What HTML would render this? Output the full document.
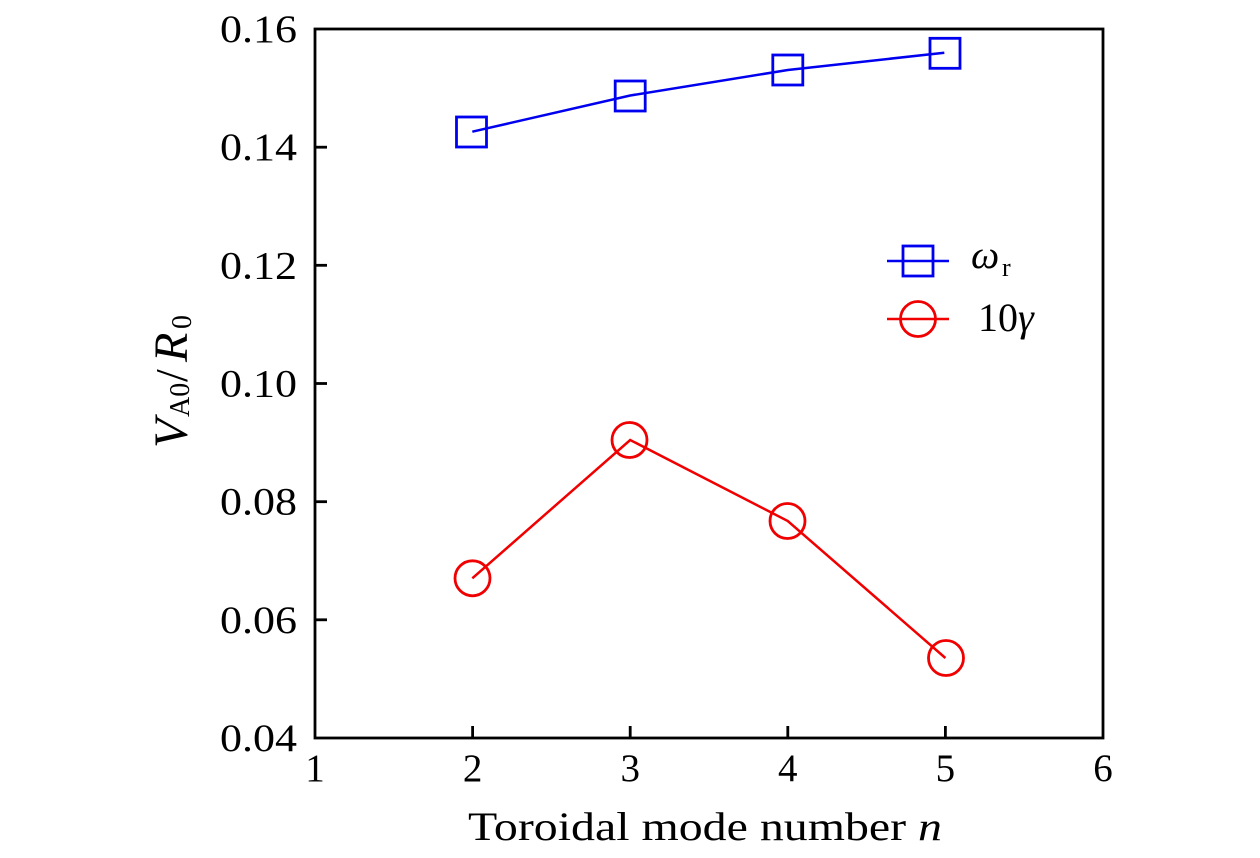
<!DOCTYPE html>
<html>
<head>
<meta charset="utf-8">
<style>
  html, body { margin:0; padding:0; background:#ffffff; }
  svg { display:block; }
  text { font-family: "Liberation Serif", "DejaVu Serif", serif; fill:#000; }
</style>
</head>
<body>
<svg width="1260" height="858" viewBox="0 0 1260 858" xmlns="http://www.w3.org/2000/svg">
  <rect x="0" y="0" width="1260" height="858" fill="#ffffff"/>

  <!-- axes frame -->
  <rect x="315" y="29" width="788" height="709" fill="none" stroke="#000" stroke-width="2.8"/>

  <!-- y ticks (inward, left only) -->
  <g stroke="#000" stroke-width="2.8">
    <line x1="315" y1="619.8" x2="327" y2="619.8"/>
    <line x1="315" y1="501.7" x2="327" y2="501.7"/>
    <line x1="315" y1="383.5" x2="327" y2="383.5"/>
    <line x1="315" y1="265.3" x2="327" y2="265.3"/>
    <line x1="315" y1="147.2" x2="327" y2="147.2"/>
    <!-- x ticks (inward, bottom only) -->
    <line x1="472.6" y1="738" x2="472.6" y2="726"/>
    <line x1="630.2" y1="738" x2="630.2" y2="726"/>
    <line x1="787.8" y1="738" x2="787.8" y2="726"/>
    <line x1="945.4" y1="738" x2="945.4" y2="726"/>
  </g>

  <!-- y tick labels -->
  <g font-size="39">
    <text x="220" y="751" textLength="77" lengthAdjust="spacingAndGlyphs">0.04</text>
    <text x="220" y="632.8" textLength="77" lengthAdjust="spacingAndGlyphs">0.06</text>
    <text x="220" y="514.7" textLength="77" lengthAdjust="spacingAndGlyphs">0.08</text>
    <text x="220" y="396.5" textLength="77" lengthAdjust="spacingAndGlyphs">0.10</text>
    <text x="220" y="278.3" textLength="77" lengthAdjust="spacingAndGlyphs">0.12</text>
    <text x="220" y="160.2" textLength="77" lengthAdjust="spacingAndGlyphs">0.14</text>
    <text x="220" y="42" textLength="77" lengthAdjust="spacingAndGlyphs">0.16</text>
  </g>

  <!-- x tick labels -->
  <g font-size="39" text-anchor="middle">
    <text x="315" y="781">1</text>
    <text x="472.6" y="781">2</text>
    <text x="630.2" y="781">3</text>
    <text x="787.8" y="781">4</text>
    <text x="945.4" y="781">5</text>
    <text x="1103" y="781">6</text>
  </g>

  <!-- x axis label -->
  <text x="468" y="840" font-size="40" textLength="474" lengthAdjust="spacingAndGlyphs">Toroidal mode number <tspan font-style="italic">n</tspan></text>

  <!-- y axis label -->
  <g transform="translate(187,448) rotate(-90)">
    <text x="0" y="0" font-size="48" font-style="italic">V</text>
    <text x="31" y="2" font-size="28">A0</text>
    <text x="66" y="0" font-size="46">/</text>
    <text x="86" y="0" font-size="48" font-style="italic">R</text>
    <text x="119" y="4" font-size="28">0</text>
  </g>

  <!-- blue series ω_r -->
  <polyline points="472.3,131.7 630.2,95.5 787.8,70 944.3,52.7" fill="none" stroke="#0000f0" stroke-width="2.5"/>
  <g fill="none" stroke="#0000f0" stroke-width="2.8">
    <rect x="456.5" y="117" width="30" height="30"/>
    <rect x="615.2" y="81" width="30" height="30"/>
    <rect x="772.8" y="55" width="30" height="30"/>
    <rect x="930" y="38.3" width="30" height="30"/>
  </g>

  <!-- red series 10γ -->
  <polyline points="472.3,578.3 630.2,440 787.8,521 945.4,658" fill="none" stroke="#f00000" stroke-width="2.5"/>
  <g fill="none" stroke="#f00000" stroke-width="2.8">
    <circle cx="472.5" cy="578.3" r="17.5"/>
    <circle cx="629.5" cy="440" r="17.5"/>
    <circle cx="787.5" cy="521" r="17.5"/>
    <circle cx="946" cy="658" r="17.5"/>
  </g>

  <!-- legend -->
  <line x1="887" y1="261" x2="949" y2="261" stroke="#0000f0" stroke-width="2.5"/>
  <rect x="903" y="246" width="30" height="30" fill="none" stroke="#0000f0" stroke-width="2.8"/>
  <line x1="887" y1="319" x2="949" y2="319" stroke="#f00000" stroke-width="2.5"/>
  <circle cx="918" cy="319" r="17.5" fill="none" stroke="#f00000" stroke-width="2.8"/>

  <text x="971" y="268" font-size="40" font-style="italic">ω</text>
  <text x="1002" y="276" font-size="26">r</text>

  <text x="978" y="331" font-size="40">10</text>
  <text x="1018" y="331" font-size="40" font-style="italic">γ</text>
</svg>
</body>
</html>
